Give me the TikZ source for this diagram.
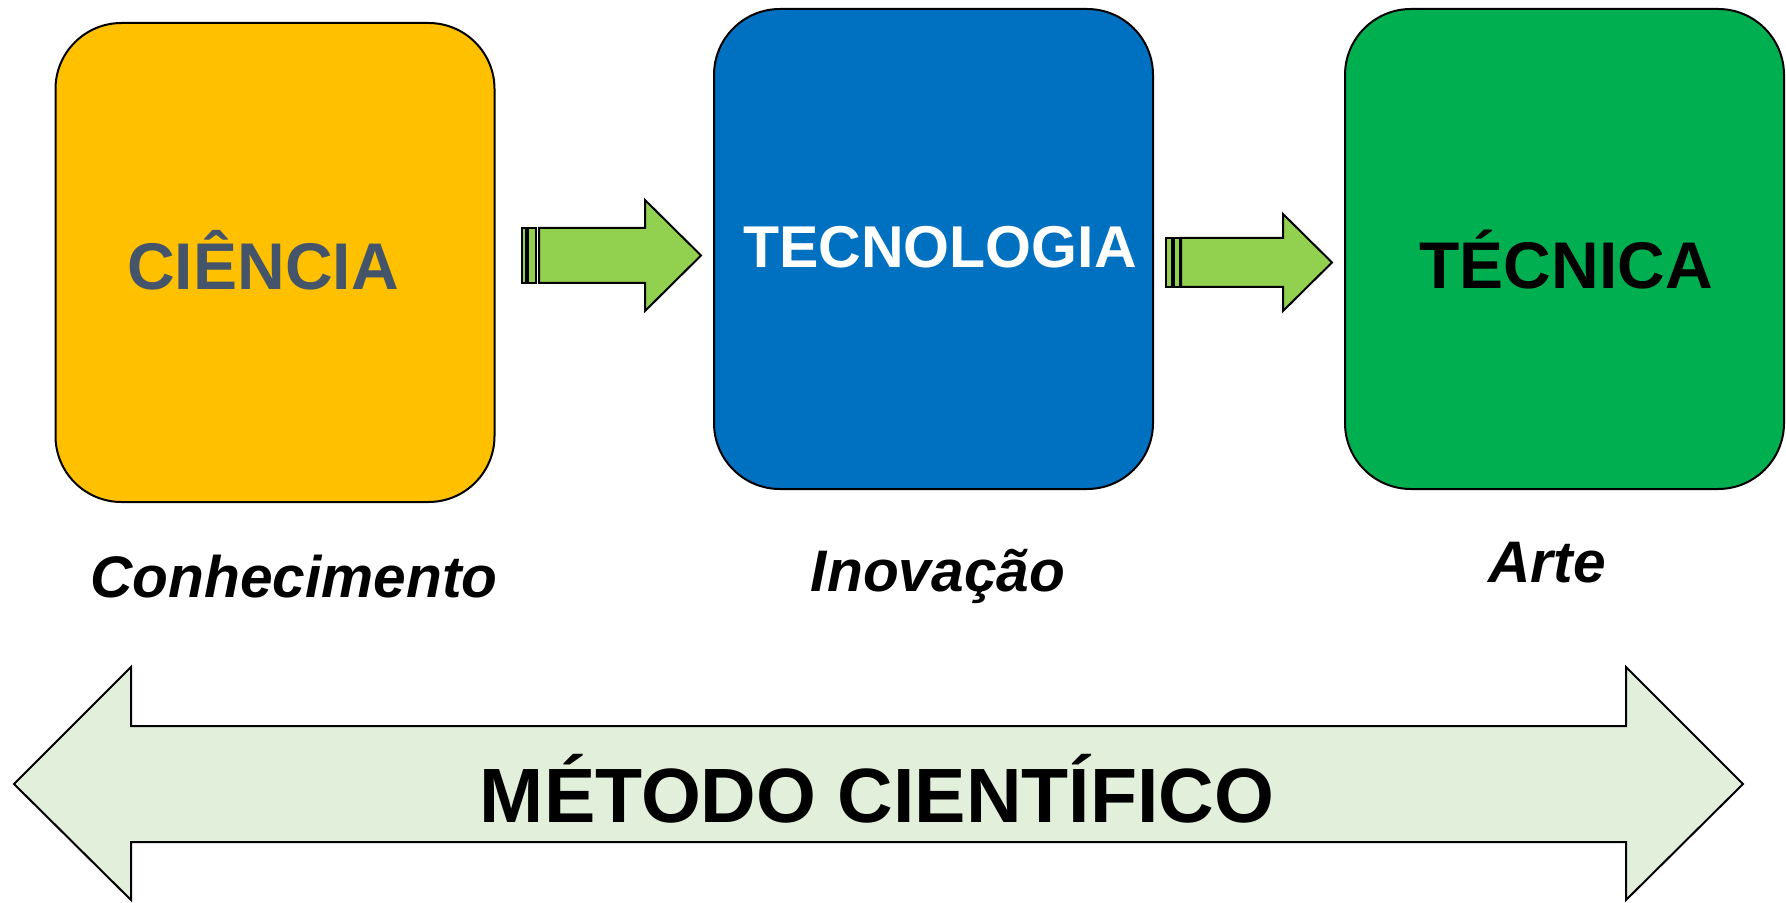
\documentclass[tikz,border=0pt]{standalone}
\usepackage{fontspec}
\setmainfont{Liberation Sans}
\definecolor{amarelo}{HTML}{FFC000}
\definecolor{azul}{HTML}{0070C0}
\definecolor{verde}{HTML}{00B050}
\definecolor{setaverde}{HTML}{92D050}
\definecolor{verdeclaro}{HTML}{E2EFDA}
\definecolor{cinzaazul}{HTML}{44546A}
\begin{document}
\begin{tikzpicture}[x=0.5pt,y=-0.5pt,
	caixa/.style={draw, line width=1pt, rounded corners=33pt, inner sep=0pt, minimum width=219.5pt, minimum height=240pt},
	titulo/.style={font=\bfseries\fontsize{33}{40}\selectfont, anchor=base, inner sep=0pt},
	rotulo/.style={font=\bfseries\itshape\fontsize{29.3}{35}\selectfont, anchor=base, inner sep=0pt},
	seta/.style={draw, line width=1pt, line join=miter}]
	\useasboundingbox (0,0) rectangle (1786,903);
	
	\node[caixa, fill=amarelo, minimum height=239.5pt] (ciencia) at (275,262.5) {};
	\node[caixa, fill=azul] (tecnologia) at (933.5,249) {};
	\node[caixa, fill=verde] (tecnica) at (1564.5,249) {};
	
	\node[titulo, text=cinzaazul] (tciencia) at (263,289.3) {CIÊNCIA};
	\node[titulo, text=white, font=\bfseries\fontsize{29.5}{36}\selectfont] (ttecnologia) at (940,267.7) {TECNOLOGIA};
	\node[titulo, text=black] (ttecnica) at (1566,288.3) {TÉCNICA};
	
	\node[rotulo] (conhecimento) at (294,597) {Conhecimento};
	\node[rotulo] (inovacao) at (938,591) {Inovação};
	\node[rotulo] (arte) at (1547,582) {Arte};
	
	% setas entre as caixas
	\draw[seta, fill=setaverde] (521.5,228) rectangle (526,283);
	\draw[seta, fill=setaverde] (528,228) rectangle (536,283);
	\draw[seta, fill=setaverde] (539,228) -- (645,228) -- (645,200) -- (701,255.5) -- (645,311) -- (645,283) -- (539,283) -- cycle;
	\draw[seta, fill=setaverde] (1166,238) rectangle (1172,287);
	\draw[seta, fill=setaverde] (1174,238) rectangle (1180,287);
	\draw[seta, fill=setaverde] (1181,238) -- (1283,238) -- (1283,214) -- (1332,262.5) -- (1283,311) -- (1283,287) -- (1181,287) -- cycle;
	
	% seta dupla
	\draw[seta, fill=verdeclaro] (14,784) -- (131,667) -- (131,726) -- (1626,726) -- (1626,667) -- (1743,784) -- (1626,900) -- (1626,842) -- (131,842) -- (131,900) -- cycle;
	\node[titulo, font=\bfseries\fontsize{38.5}{46}\selectfont] (metodo) at (877,822) {MÉTODO CIENTÍFICO};
\end{tikzpicture}
\end{document}
